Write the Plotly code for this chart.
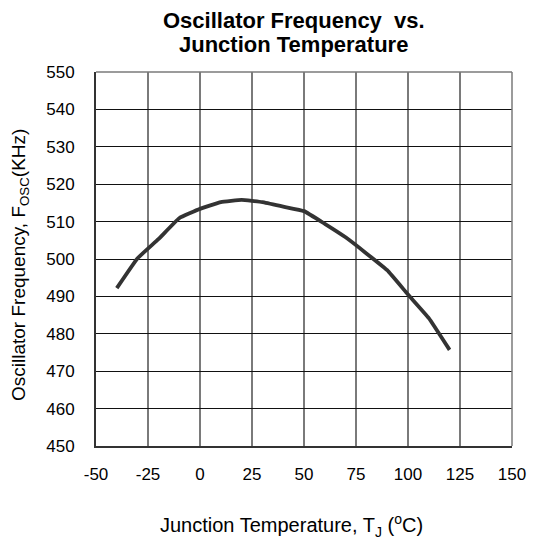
import plotly.graph_objects as go

temperature_c = [-40, -30, -20, -10, 0, 10, 20, 30, 40, 50, 60, 70, 80, 90, 100, 110, 120]
freq_khz = [492.2, 500.2, 505.3, 510.9, 513.4, 515.2, 515.8, 515.2, 514.0, 512.8,
            509.4, 505.8, 501.5, 497.0, 490.5, 484.2, 475.7]

x_ticks = [-50, -25, 0, 25, 50, 75, 100, 125, 150]
y_ticks = [450, 460, 470, 480, 490, 500, 510, 520, 530, 540, 550]

title_lines = ["Oscillator Frequency  vs.", "Junction Temperature"]
x_title = "Junction Temperature, T<sub>J</sub> (<sup>o</sup>C)"
y_title = "Oscillator Frequency, F<sub>OSC</sub>(KHz)"

FONT = "Liberation Sans, Arial, sans-serif"

fig = go.Figure()
fig.add_trace(go.Scatter(
    x=temperature_c, y=freq_khz, mode="lines",
    line=dict(color="#333333", width=3.8, shape="spline", smoothing=0.3),
    showlegend=False, hoverinfo="skip",
))

# page has an 8px body margin, so the figure is 8px smaller than the window
fig.update_layout(
    width=530, height=539,
    margin=dict(l=88, r=21, t=64, b=101),
    paper_bgcolor="white", plot_bgcolor="white",
    font=dict(family=FONT, color="black", size=17),
)

fig.update_xaxes(
    range=[-50, 150], tickvals=x_ticks, ticktext=[str(v) for v in x_ticks],
    showgrid=True, gridcolor="#7a7a7a", gridwidth=1.5,
    showline=True, linecolor="#333333", linewidth=2, mirror=False,
    zeroline=False, ticks="", ticklabelstandoff=12,
    tickfont=dict(family=FONT, size=17),
)
fig.update_yaxes(
    range=[450, 550], tickvals=y_ticks, ticktext=[str(v) for v in y_ticks],
    showgrid=True, gridcolor="#111111", gridwidth=1,
    showline=True, linecolor="#333333", linewidth=2, mirror=False,
    zeroline=False, ticks="", ticklabelstandoff=16,
    tickfont=dict(family=FONT, size=17),
)

# title lines
fig.add_annotation(text="<b>%s</b>" % title_lines[0], xref="paper", yref="paper",
                   x=0.475, y=1, yshift=52, xanchor="center", yanchor="middle",
                   showarrow=False, font=dict(family=FONT, size=22, color="black"))
fig.add_annotation(text="<b>%s</b>" % title_lines[1], xref="paper", yref="paper",
                   x=0.475, y=1, yshift=28, xanchor="center", yanchor="middle",
                   showarrow=False, font=dict(family=FONT, size=22, color="black"))
# axis titles
fig.add_annotation(text=x_title, xref="paper", yref="paper",
                   x=0.47, y=0, yshift=-79, xanchor="center", yanchor="middle",
                   showarrow=False, font=dict(family=FONT, size=20, color="black"))
fig.add_annotation(text=y_title, xref="paper", yref="paper",
                   x=0, y=0.484, xshift=-76, xanchor="center", yanchor="middle",
                   textangle=-90, showarrow=False,
                   font=dict(family=FONT, size=19, color="black"))

# top and right frame edges (gray)
fig.add_shape(type="line", xref="paper", yref="paper", x0=0, x1=1, y0=1, y1=1,
              line=dict(color="#7a7a7a", width=1.5))
fig.add_shape(type="line", xref="paper", yref="paper", x0=1, x1=1, y0=0, y1=1,
              line=dict(color="#7a7a7a", width=1.5))

fig.write_html("out.html")
